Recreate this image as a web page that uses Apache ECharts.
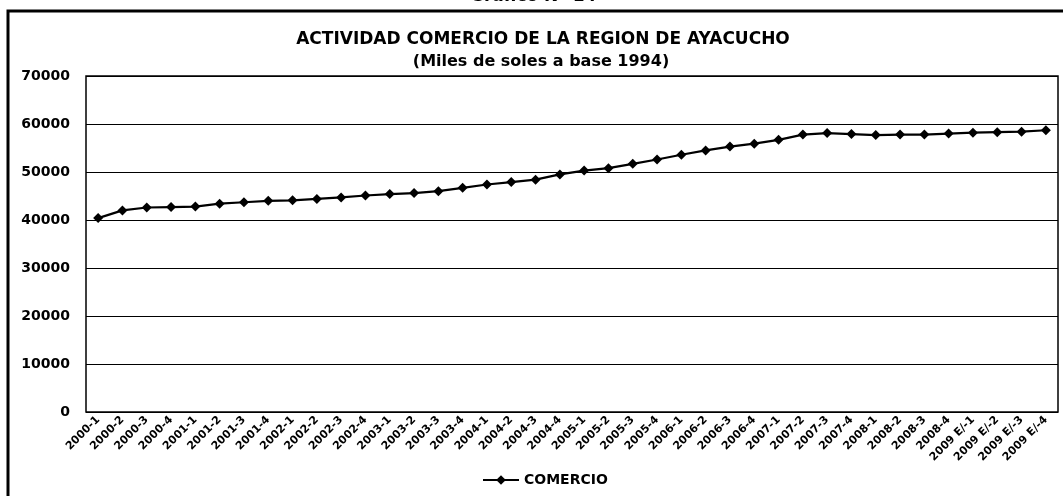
<!DOCTYPE html>
<html>
<head>
<meta charset="utf-8">
<title>Actividad comercio Ayacucho</title>
<script src="https://cdn.jsdelivr.net/npm/echarts@6/dist/echarts.min.js"></script>
<style>
	html, body { margin: 0; padding: 0; background: #fff; }
	#main { width: 1063px; height: 496px; }
</style>
</head>
<body>
<div id="main"></div>
<script>
	// trimestres
	var periodos = [ '2000-1', '2000-2', '2000-3', '2000-4',
		'2001-1', '2001-2', '2001-3', '2001-4',
		'2002-1', '2002-2', '2002-3', '2002-4',
		'2003-1', '2003-2', '2003-3', '2003-4',
		'2004-1', '2004-2', '2004-3', '2004-4',
		'2005-1', '2005-2', '2005-3', '2005-4',
		'2006-1', '2006-2', '2006-3', '2006-4',
		'2007-1', '2007-2', '2007-3', '2007-4',
		'2008-1', '2008-2', '2008-3', '2008-4',
		'2009 E/-1', '2009 E/-2', '2009 E/-3', '2009 E/-4' ];
	// miles de soles a base 1994
	var comercio = [ 40400, 42000, 42600, 42700,
		42800, 43400, 43700, 44000,
		44100, 44400, 44700, 45100,
		45400, 45600, 46000, 46700,
		47400, 47900, 48400, 49500,
		50300, 50800, 51700, 52600,
		53600, 54500, 55300, 55900,
		56700, 57800, 58100, 57900,
		57700, 57800, 57800, 58000,
		58200, 58300, 58400, 58700 ];
	var yMax = 70000;
	var yPaso = 10000;

	var fuente = 'DejaVu Sans';
	var myChart = echarts.init(document.getElementById('main'));

	var option = {
		backgroundColor : '#fff',
		animation : false,
		textStyle : {
			fontFamily : fuente
		},
		title : [ {
			text : 'ACTIVIDAD COMERCIO DE LA REGION DE AYACUCHO',
			left : 538,
			top : 26,
			textAlign : 'center',
			textStyle : {
				fontFamily : fuente,
				fontSize : 17,
				fontWeight : 'bold',
				color : '#000'
			}
		}, {
			text : '(Miles de soles a base 1994)',
			left : 536,
			top : 49,
			textAlign : 'center',
			textStyle : {
				fontFamily : fuente,
				fontSize : 16,
				fontWeight : 'bold',
				color : '#000'
			}
		} ],
		graphic : [ {
			// encabezado cortado arriba
			type : 'text',
			x : 470,
			y : -12,
			style : {
				text : 'Gráfico N° 14',
				font : 'bold 17px ' + fuente,
				fill : '#000',
				verticalAlign : 'top'
			}
		}, {
			type : 'rect',
			shape : { x : 8, y : 11, width : 1080, height : 520 },
			style : { fill : 'none', stroke : '#000', lineWidth : 3 },
			z : 10
		} ],
		legend : {
			left : 477,
			top : 468,
			itemWidth : 36,
			itemHeight : 12,
			itemGap : 6,
			data : [ 'COMERCIO' ],
			textStyle : {
				fontFamily : fuente,
				fontSize : 14,
				fontWeight : 'bold',
				color : '#000'
			}
		},
		grid : {
			left : 86,
			right : 5,
			top : 76,
			bottom : 84,
			show : true,
			borderColor : '#000',
			borderWidth : 1.5
		},
		xAxis : {
			type : 'category',
			data : periodos,
			boundaryGap : true,
			axisLine : { show : false },
			axisTick : { show : false },
			axisLabel : {
				interval : 0,
				rotate : 45,
				margin : 6,
				fontFamily : fuente,
				fontSize : 11,
				fontWeight : 'bold',
				color : '#000'
			}
		},
		yAxis : {
			type : 'value',
			min : 0,
			max : yMax,
			interval : yPaso,
			axisLine : { show : false },
			axisTick : { show : false },
			splitLine : {
				lineStyle : { color : '#000', width : 1.2 }
			},
			axisLabel : {
				margin : 16,
				fontFamily : fuente,
				fontSize : 14,
				fontWeight : 'bold',
				color : '#000',
				formatter : function(v) {
					return String(v);
				}
			}
		},
		series : [ {
			name : 'COMERCIO',
			type : 'line',
			data : comercio,
			symbol : 'diamond',
			symbolSize : 10,
			showSymbol : true,
			itemStyle : { color : '#000' },
			lineStyle : { color : '#000', width : 2.2 }
		} ]
	};

	myChart.setOption(option);
</script>
</body>
</html>
